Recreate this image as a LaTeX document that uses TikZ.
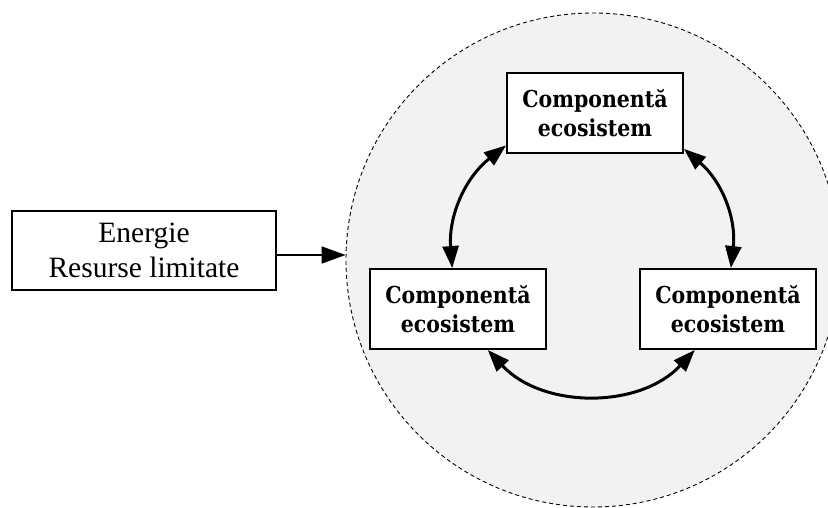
\documentclass[tikz,border=0pt]{standalone}
\usepackage{fontspec}
\setmainfont{Liberation Serif}
\newfontfamily\compfont[FakeStretch=0.88]{DejaVu Serif}
\usetikzlibrary{arrows.meta}
\begin{document}
\begin{tikzpicture}[x=1pt,y=-1pt,
  inbox/.style={draw, line width=1.8pt, fill=white, minimum width=264pt,
    minimum height=79pt, inner sep=0pt, align=center,
    font=\fontsize{29.5}{35}\selectfont},
  comp/.style={draw, line width=1.9pt, fill=white, minimum width=176pt,
    minimum height=80pt, inner sep=0pt, align=center,
    font=\compfont\bfseries\fontsize{23.3}{29}\selectfont},
  ring/.style={circle, draw, dash pattern=on 4pt off 3pt, line width=0.9pt,
    fill=black!5, minimum size=494pt, inner sep=0pt},
  flow/.style={line width=1.8pt, -{Triangle[length=24pt,width=17pt]}},
  link/.style={line width=3pt, {Triangle[length=22pt,width=16pt]}-{Triangle[length=22pt,width=16pt]}}
]
\useasboundingbox (0,0) rectangle (828,508);
\clip (0,0) rectangle (828,508);

% environment circle holding the ecosystem components
\node[ring] (eco) at (593,260) {};

% external input
\node[inbox] (energy) at (144,250.5) {Energie\\Resurse limitate};
\draw[flow] ([yshift=-4.5pt]energy.east) -- ([yshift=-4.5pt]energy.east -| eco.west);

% ecosystem components
\node[comp] (top)   at (595,113) {Componentă\\ecosistem};
\node[comp] (left)  at (458,309) {Componentă\\ecosistem};
\node[comp] (right) at (728,309) {Componentă\\ecosistem};

% mutual interactions
\draw[link] (top.200) to[bend right=28] (left.98);
\draw[link] (top.-22) to[bend left=28] (right.86);
\draw[link] (left.-54) to[bend right=47] (right.231);
\end{tikzpicture}
\end{document}
